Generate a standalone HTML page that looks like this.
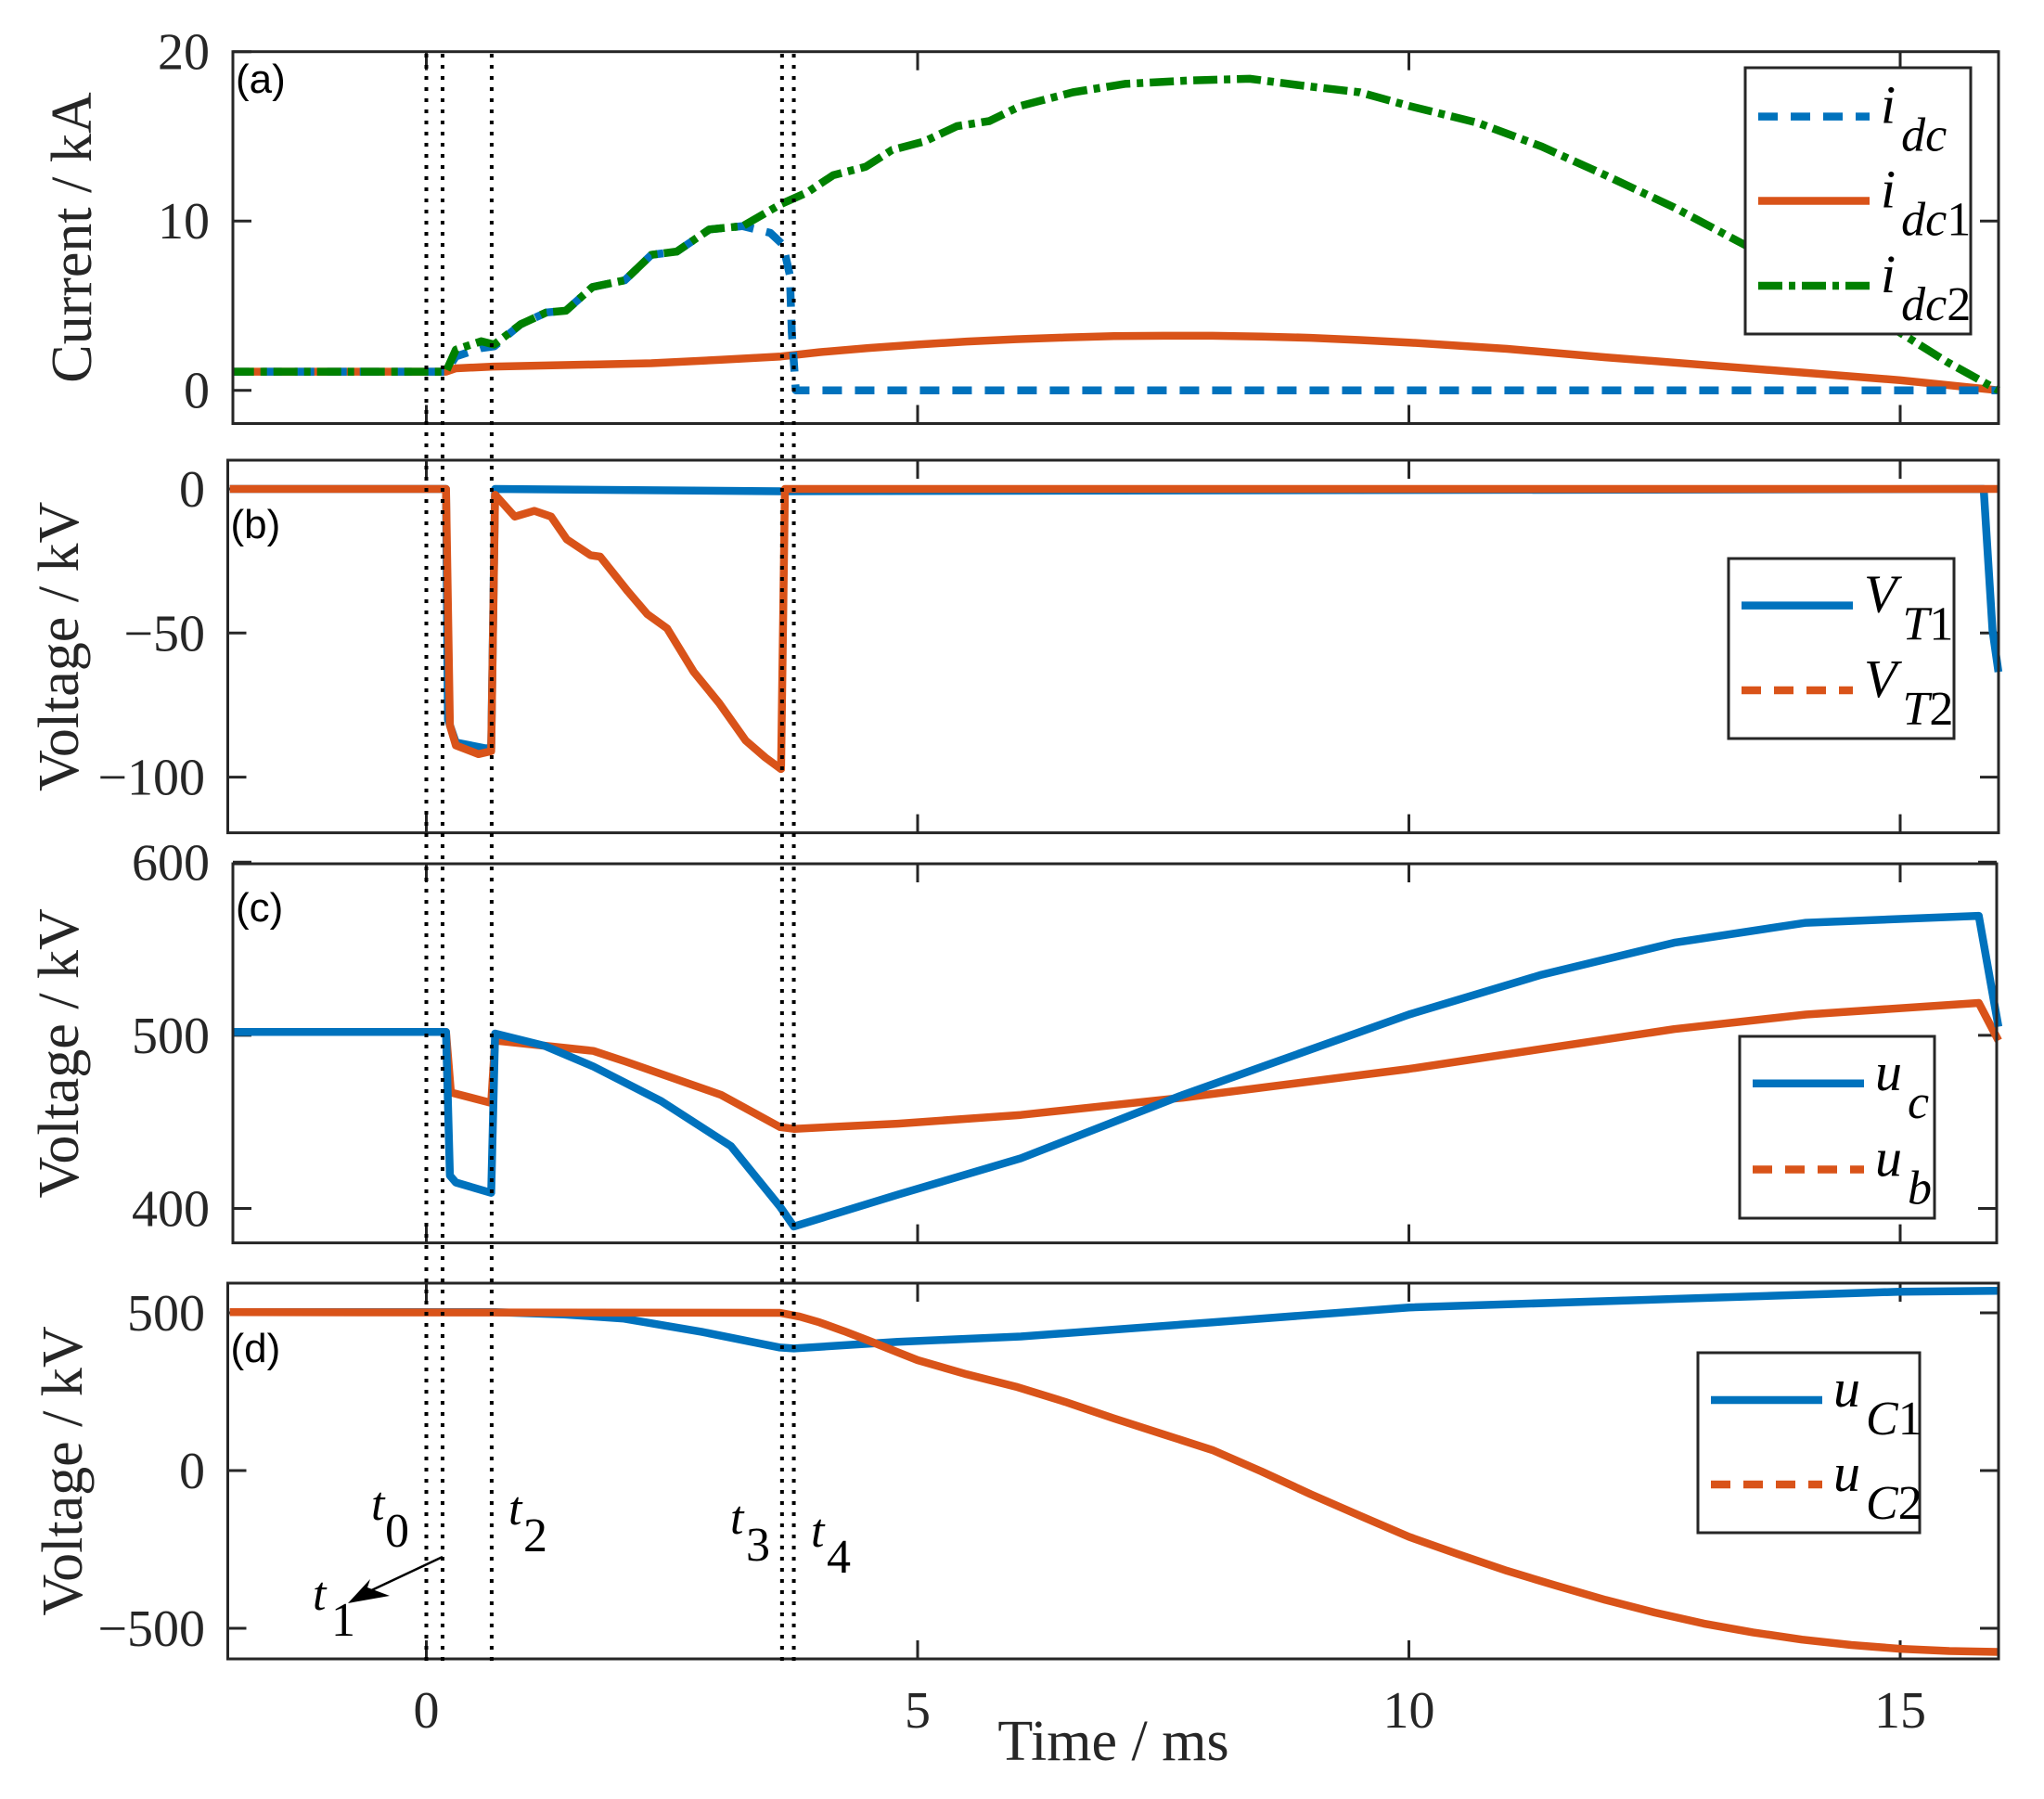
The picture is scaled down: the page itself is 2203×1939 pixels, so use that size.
<!DOCTYPE html>
<html><head><meta charset="utf-8"><style>
html,body{margin:0;padding:0;background:#fff;}
svg{display:block;}
text{font-family:"Liberation Serif",serif;fill:#262626;}
.tick{font-size:56px;}
.ttl{font-size:62px;}
.pl{font-family:"Liberation Sans",sans-serif;font-size:44px;fill:#000;}
.lg{font-style:italic;font-size:58px;fill:#000;}
.ann{font-style:italic;font-size:52px;fill:#000;}
</style></head><body>
<svg id="fig" width="2203" height="1939" viewBox="0 0 2203 1939" xmlns="http://www.w3.org/2000/svg">
<g id="layer"></g>
</svg>
<script>
// ---- shared time axis ----
const xTicks = [0, 5, 10, 15];
const eventTimes = [0, 0.165, 0.665, 3.62, 3.74];
// ---- panel (a) ----
const aTicks = [0, 10, 20];
const idcT = [-2, 0.2, 0.3, 0.56, 0.69, 0.96, 1.22, 1.42, 1.69, 2.02, 2.29, 2.55, 2.88, 3.22, 3.5, 3.63, 3.7, 3.72, 3.76, 16];
const idcV = [1.1, 1.1, 2.0, 2.5, 2.6, 3.9, 4.6, 4.7, 6.1, 6.5, 8.0, 8.2, 9.5, 9.7, 9.3, 8.6, 6.8, 3.4, 0, 0];
const idc1T = [-2, 0.2, 0.3, 0.68, 1.5, 2.29, 3.0, 3.61, 4.0, 4.5, 5, 5.5, 6, 6.5, 7, 7.5, 8, 8.5, 9, 9.5, 10, 11, 12, 13, 14, 15, 16];
const idc1V = [1.1, 1.1, 1.3, 1.4, 1.5, 1.6, 1.8, 2.0, 2.25, 2.5, 2.7, 2.88, 3.02, 3.12, 3.2, 3.22, 3.22, 3.18, 3.1, 2.97, 2.82, 2.45, 1.95, 1.5, 1.05, 0.6, 0];
const idc2T = [-2, 0.2, 0.3, 0.56, 0.69, 0.96, 1.22, 1.42, 1.69, 2.02, 2.29, 2.55, 2.88, 3.22, 3.61, 3.88, 4.14, 4.47, 4.74, 5.07, 5.4, 5.73, 6.05, 6.58, 7.11, 7.78, 8.38, 8.91, 9.5, 10, 10.7, 11.35, 12.0, 12.7, 13.35, 14.2, 15.0, 15.47, 16];
const idc2V = [1.1, 1.1, 2.4, 2.9, 2.7, 3.9, 4.6, 4.7, 6.1, 6.5, 8.0, 8.2, 9.5, 9.7, 11.0, 11.7, 12.7, 13.2, 14.2, 14.7, 15.6, 15.9, 16.8, 17.6, 18.1, 18.3, 18.4, 18.0, 17.6, 16.8, 15.8, 14.4, 12.7, 10.8, 8.8, 6.2, 3.4, 1.7, 0];
// ---- panel (b) ----
const bTicks = [-100, -50, 0];
const vt1T = [-2, 0.2, 0.22, 0.3, 0.6, 0.66, 0.7, 3.6, 15.85, 15.94, 16];
const vt1V = [0, 0, -80, -88, -90, -90, 0, -0.8, 0, -49, -63.5];
const vt2T = [-2, 0.2, 0.24, 0.3, 0.53, 0.66, 0.7, 0.9, 1.1, 1.27, 1.43, 1.67, 1.77, 2.05, 2.25, 2.45, 2.72, 2.98, 3.25, 3.45, 3.61, 3.65, 16];
const vt2V = [0, 0, -82, -89, -92, -91, -2, -9.6, -7.6, -9.6, -17.5, -23, -23.5, -35.5, -43.5, -48.4, -63.4, -74.3, -87.3, -93.2, -97.2, 0, 0];
// ---- panel (c) ----
const cTicks = [400, 500, 600];
const ucT = [-2, 0.2, 0.24, 0.3, 0.66, 0.7, 1.2, 1.7, 2.39, 3.1, 3.6, 3.74, 4.8, 6.05, 7.7, 10, 11.35, 12.7, 14.04, 15.8, 16];
const ucV = [502, 502, 419, 415, 409, 501, 494, 482, 462, 436, 401, 389.6, 408, 429, 465.6, 512, 535, 553.5, 565, 569, 505];
const ubT = [-2, 0.2, 0.25, 0.66, 0.7, 1.7, 2.02, 3.0, 3.6, 3.74, 4.8, 6.05, 7.7, 10, 12.7, 14.04, 15.8, 16];
const ubV = [502, 502, 467, 461, 497, 491, 485, 465.6, 447, 446, 449, 454, 464, 480.6, 503.6, 512, 518.7, 497];
// ---- panel (d) ----
const dTicks = [-500, 0, 500];
const uc1T = [-2, 0.7, 1.4, 2.0, 2.8, 3.6, 3.74, 4.8, 6.05, 8, 10, 12.7, 15, 16];
const uc1V = [502, 502, 495, 482, 440, 390, 387, 408, 425, 470, 517, 544, 567, 570];
const uc2T = [-2, 3.6, 3.8, 4.0, 4.25, 4.5, 4.75, 5.0, 5.5, 6.0, 6.5, 7.0, 7.5, 8.0, 8.5, 9.0, 9.5, 10, 10.5, 11, 11.5, 12, 12.5, 13, 13.5, 14, 14.5, 15, 15.5, 16];
const uc2V = [502, 500, 488, 470, 442, 412, 381, 350, 305, 266, 218, 165, 115, 65, -3, -75, -143, -210, -265, -318, -365, -410, -450, -485, -513, -536, -553, -565, -572, -575];

const NS = 'http://www.w3.org/2000/svg';
const layer = document.getElementById('layer');
const BLUE = '#0072BD', ORANGE = '#D95319', GREEN = '#008000';
function xs(t) { return 459.5 + 105.9 * t; }
function mk(tag, attrs, parent) {
  const e = document.createElementNS(NS, tag);
  for (const k in attrs) e.setAttribute(k, attrs[k]);
  (parent || layer).appendChild(e);
  return e;
}
function lin(v0, p0, v1, p1) { return v => p0 + (v - v0) * (p1 - p0) / (v1 - v0); }

const panels = [
  {id: 'a', left: 251, right: 2154, top: 55.7, bottom: 456.5, ys: lin(0, 420.7, 10, 238.2), ticks: aTicks, title: 'Current / kA', tb: 98, lab: 226, plY: 100},
  {id: 'b', left: 245.5, right: 2154, top: 496, bottom: 897.6, ys: lin(0, 527, -50, 682.3), ticks: bTicks, title: 'Voltage / kV', tb: 84, lab: 221, plY: 580},
  {id: 'c', left: 251, right: 2152, top: 931, bottom: 1339.6, ys: lin(500, 1115.9, 400, 1302.5), ticks: cTicks, title: 'Voltage / kV', tb: 84, lab: 226, plY: 993},
  {id: 'd', left: 245.5, right: 2154, top: 1383, bottom: 1788, ys: lin(500, 1415, 0, 1585), ticks: dTicks, title: 'Voltage / kV', tb: 88, lab: 221, plY: 1468}
];

function series(p, T, V, color, dash, name) {
  let d = '';
  for (let i = 0; i < T.length; i++) d += (i ? 'L' : 'M') + xs(T[i]).toFixed(1) + ',' + p.ys(V[i]).toFixed(1);
  const e = mk('path', {d: d, fill: 'none', stroke: color, 'stroke-width': 8.5, 'stroke-linejoin': 'round', 'clip-path': 'url(#clip-' + p.id + ')'});
  if (dash) e.setAttribute('stroke-dasharray', dash);
  
  
}

const defs = mk('defs', {}, document.getElementById('fig'));
panels.forEach(p => {
  const cp = mk('clipPath', {id: 'clip-' + p.id}, defs);
  mk('rect', {x: p.left, y: p.top - 6, width: p.right - p.left + 6, height: p.bottom - p.top + 12}, cp);
});

panels.forEach(p => {
  const g = mk('g', {});
  
  
  p.ticks.forEach(v => {
    const y = p.ys(v);
    mk('line', {x1: p.left, x2: p.left + 20, y1: y, y2: y, stroke: '#262626', 'stroke-width': 3}, g);
    mk('line', {x1: p.right, x2: p.right - 20, y1: y, y2: y, stroke: '#262626', 'stroke-width': 3}, g);
    const t = mk('text', {x: p.lab, y: y + 19, 'text-anchor': 'end', class: 'tick'}, g);
    t.textContent = String(v).replace('-', '\u2212');
    
    
  });
  xTicks.forEach(v => {
    const x = xs(v);
    mk('line', {x1: x, x2: x, y1: p.bottom, y2: p.bottom - 20, stroke: '#262626', 'stroke-width': 3}, g);
    mk('line', {x1: x, x2: x, y1: p.top, y2: p.top + 20, stroke: '#262626', 'stroke-width': 3}, g);
  });
  const tt = mk('text', {x: 0, y: 0, 'text-anchor': 'middle', class: 'ttl', transform: 'translate(' + p.tb + ',' + ((p.top + p.bottom) / 2) + ') rotate(-90)'}, g);
  tt.textContent = p.title;
  
  
  const pl = mk('text', {x: p.left + 3, y: p.plY, class: 'pl'}, g);
  pl.textContent = '(' + p.id + ')';
  
  
});

const A = panels[0], B = panels[1], C = panels[2], D = panels[3];
series(A, idc1T, idc1V, ORANGE, null, 'series-idc1');
series(A, idcT, idcV, BLUE, '21 14', 'series-idc');
series(A, idc2T, idc2V, GREEN, '26 7 7 7', 'series-idc2');
series(B, vt1T, vt1V, BLUE, null, 'series-vt1');
series(B, vt2T, vt2V, ORANGE, null, 'series-vt2');
series(C, ubT, ubV, ORANGE, null, 'series-ub');
series(C, ucT, ucV, BLUE, null, 'series-uc');
series(D, uc1T, uc1V, BLUE, null, 'series-uc1');
series(D, uc2T, uc2V, ORANGE, null, 'series-uc2');

panels.forEach(p => {
  const r = mk('rect', {x: p.left, y: p.top, width: p.right - p.left, height: p.bottom - p.top, fill: 'none', stroke: '#262626', 'stroke-width': 3});
  
  
});

eventTimes.forEach(t => {
  const l = mk('line', {x1: xs(t), x2: xs(t), y1: 58, y2: 1792, stroke: '#000', 'stroke-width': 4, 'stroke-dasharray': '4 8'});
  
  
});

xTicks.forEach(v => {
  const t = mk('text', {x: xs(v), y: 1862, 'text-anchor': 'middle', class: 'tick'});
  t.textContent = v;
  
  
});
const xt = mk('text', {x: 1200, y: 1897, 'text-anchor': 'middle', class: 'ttl'});
xt.textContent = 'Time / ms';



function legend(x, y, w, h, entries, name) {
  const g = mk('g', {});
  
  
  mk('rect', {x: x, y: y, width: w, height: h, fill: '#fff', stroke: '#262626', 'stroke-width': 3}, g);
  entries.forEach(en => {
    const l = mk('line', {x1: x + 14, x2: x + 134, y1: en.y, y2: en.y, stroke: en.c, 'stroke-width': 8.5}, g);
    if (en.dash) l.setAttribute('stroke-dasharray', en.dash);
    const t = mk('text', {x: x + 146, y: en.y + 7, class: 'lg'}, g);
    t.textContent = en.main;
    const s = mk('tspan', {dx: 6, dy: 30, style: 'font-size:52px'}, t);
    s.textContent = en.sub;
    if (en.num) { const n = mk('tspan', {style: 'font-style:normal;font-size:52px'}, t); n.textContent = en.num; }
  });
}
legend(1881, 73, 243, 287, [
  {y: 125.6, c: BLUE, dash: '21 14', main: 'i', sub: 'dc'},
  {y: 216.5, c: ORANGE, main: 'i', sub: 'dc', num: '1'},
  {y: 308, c: GREEN, dash: '26 7 7 7', main: 'i', sub: 'dc', num: '2'}], 'legend-a');
legend(1863, 602, 243, 194, [
  {y: 652.6, c: BLUE, main: 'V', sub: 'T', num: '1'},
  {y: 744, c: ORANGE, dash: '21 14', main: 'V', sub: 'T', num: '2'}], 'legend-b');
legend(1875, 1117, 210, 196, [
  {y: 1167.8, c: BLUE, main: 'u', sub: 'c'},
  {y: 1260.5, c: ORANGE, dash: '21 14', main: 'u', sub: 'b'}], 'legend-c');
legend(1830, 1458, 239, 194, [
  {y: 1509, c: BLUE, main: 'u', sub: 'C', num: '1'},
  {y: 1600, c: ORANGE, dash: '21 14', main: 'u', sub: 'C', num: '2'}], 'legend-d');

const anns = [['t', '0', 400, 1638, 415, 1667], ['t', '2', 548, 1643, 564, 1672], ['t', '3', 787, 1653, 804, 1682], ['t', '4', 874, 1667, 891, 1695], ['t', '1', 337, 1735, 357, 1763]];
anns.forEach(a => {
  const t = mk('text', {x: a[2], y: a[3], class: 'ann'});
  t.textContent = a[0];
  
  
  const s = mk('text', {x: a[4], y: a[5], class: 'ann', style: 'font-style:normal'});
  s.textContent = a[1];
});
const ar = mk('line', {x1: 477, y1: 1678, x2: 392, y2: 1718, stroke: '#000', 'stroke-width': 2.5});


mk('polygon', {points: '375,1728 399,1702 396,1711 420,1720', fill: '#000'});
</script>
</body></html>
